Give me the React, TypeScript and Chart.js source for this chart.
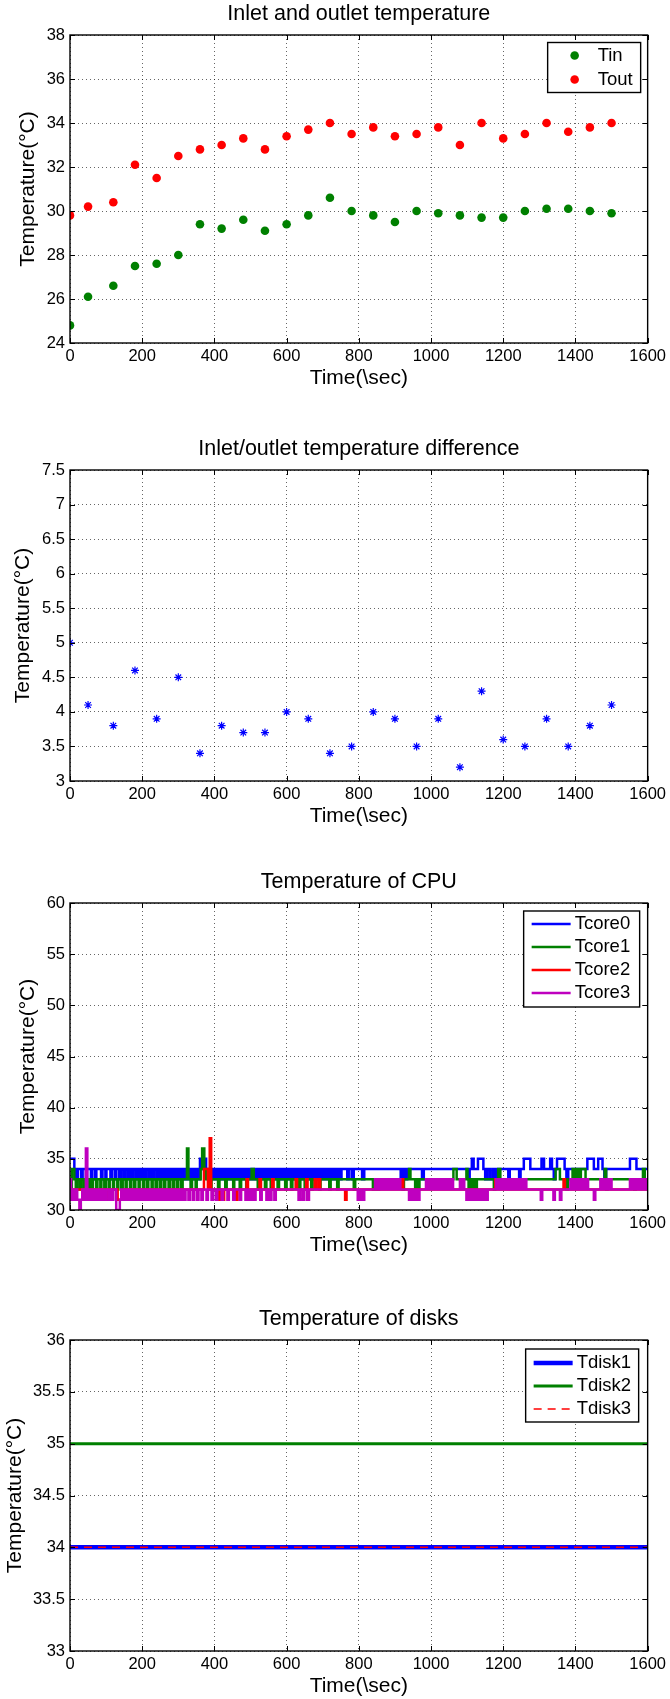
import React, { useEffect, useRef } from "react";
import { Chart, registerables } from "chart.js";

Chart.register(...registerables);

const FONT = "'Liberation Sans', Arial, Helvetica, sans-serif";
Chart.defaults.font.family = FONT;
Chart.defaults.color = "#000";

// ---------- data ----------
const timeTicks = [0, 200, 400, 600, 800, 1000, 1200, 1400, 1600];

const sampleTimes = [0, 50, 120, 180, 240, 300, 360, 420, 480, 540, 600, 660, 720, 780, 840, 900, 960, 1020, 1080, 1140, 1200, 1260, 1320, 1380, 1440, 1500];
const tin = [24.8, 26.1, 26.6, 27.5, 27.6, 28.0, 29.4, 29.2, 29.6, 29.1, 29.4, 29.8, 30.6, 30.0, 29.8, 29.5, 30.0, 29.9, 29.8, 29.7, 29.7, 30.0, 30.1, 30.1, 30.0, 29.9];
const tout = [29.8, 30.2, 30.4, 32.1, 31.5, 32.5, 32.8, 33.0, 33.3, 32.8, 33.4, 33.7, 34.0, 33.5, 33.8, 33.4, 33.5, 33.8, 33.0, 34.0, 33.3, 33.5, 34.0, 33.6, 33.8, 34.0];
const tempDiff = [5.0, 4.1, 3.8, 4.6, 3.9, 4.5, 3.4, 3.8, 3.7, 3.7, 4.0, 3.9, 3.4, 3.5, 4.0, 3.9, 3.5, 3.9, 3.2, 4.3, 3.6, 3.5, 3.9, 3.5, 3.8, 4.1];

const inOutTicks = [24, 26, 28, 30, 32, 34, 36, 38];
const diffTicks = [3, 3.5, 4, 4.5, 5, 5.5, 6, 6.5, 7, 7.5];
const cpuTicks = [30, 35, 40, 45, 50, 55, 60];
const diskTicks = [33, 33.5, 34, 34.5, 35, 35.5, 36];

// CPU core temperatures: [time (s), temperature] at each change
const tcore0 = [
  [0, 35], [12, 34], [17, 33], [22, 34], [31, 33], [35, 34], [44, 33], [47, 34], [58, 33], [62, 34], [70, 33], [73, 34], [86, 33], [90, 34], [98, 33], [101, 34],
  [112, 33], [116, 34], [124, 33], [128, 34], [136, 33], [141, 34], [148, 33], [152, 34], [159, 33], [165, 34], [171, 33], [176, 34], [183, 33], [188, 34],
  [194, 33], [200, 34], [206, 33], [211, 34], [218, 33], [224, 34], [230, 33], [234, 34], [241, 33], [247, 34], [253, 33], [258, 34], [264, 33], [270, 34],
  [276, 33], [281, 34], [287, 33], [293, 34], [299, 33], [304, 34], [310, 33], [316, 34], [322, 33], [327, 34], [333, 33], [338, 34], [344, 33], [350, 34],
  [355, 33], [360, 35], [366, 34], [370, 35], [377, 34], [382, 33], [388, 34], [393, 33], [399, 34], [405, 33], [410, 34], [416, 33], [422, 34], [428, 33],
  [433, 34], [439, 33], [445, 34], [451, 33], [456, 34], [462, 33], [468, 34], [474, 33], [479, 34], [485, 33], [491, 34], [497, 33], [502, 34], [508, 33],
  [514, 34], [520, 33], [525, 34], [531, 33], [537, 34], [543, 33], [548, 34], [554, 33], [560, 34], [566, 33], [571, 34], [577, 33], [583, 34], [589, 33],
  [594, 34], [600, 33], [606, 34], [612, 33], [617, 34], [623, 33], [629, 34], [635, 33], [640, 34], [646, 33], [652, 34], [658, 33], [663, 34], [669, 33],
  [675, 34], [681, 33], [686, 34], [692, 33], [698, 34], [704, 33], [709, 34], [715, 33], [721, 34], [727, 33], [732, 34], [738, 33], [744, 34], [748, 33],
  [752, 34], [768, 33], [772, 34], [780, 33], [786, 34], [809, 33], [815, 34], [916, 33], [922, 34], [928, 33], [934, 34], [975, 33], [980, 34], [1103, 33],
  [1107, 34], [1113, 35], [1118, 34], [1130, 35], [1145, 34], [1150, 33], [1156, 34], [1163, 33], [1170, 34], [1176, 33], [1180, 34], [1214, 33], [1218, 34],
  [1244, 33], [1248, 34], [1257, 35], [1275, 34], [1306, 35], [1313, 34], [1330, 35], [1335, 34], [1340, 33], [1344, 34], [1349, 35], [1370, 34], [1375, 33],
  [1380, 34], [1405, 33], [1410, 34], [1433, 35], [1451, 34], [1463, 35], [1475, 34], [1480, 33], [1485, 34], [1551, 35], [1569, 34], [1600, 34],
];
const tcore1 = [
  [0, 32], [5, 34], [12, 33], [16, 32], [20, 33], [27, 32], [31, 33], [38, 32], [42, 33], [49, 32], [54, 33], [60, 32], [63, 33], [72, 32], [76, 33], [84, 32],
  [87, 33], [95, 32], [99, 33], [107, 32], [110, 33], [119, 32], [122, 33], [131, 32], [134, 33], [142, 32], [146, 33], [154, 32], [157, 33], [166, 32],
  [170, 33], [178, 32], [181, 33], [190, 32], [193, 33], [202, 32], [206, 33], [214, 32], [217, 33], [226, 32], [229, 33], [237, 32], [241, 33], [249, 32],
  [253, 33], [261, 32], [264, 33], [273, 32], [277, 33], [285, 32], [288, 33], [296, 32], [300, 33], [308, 32], [312, 33], [324, 36], [328, 33], [334, 32],
  [338, 33], [348, 32], [351, 33], [362, 34], [366, 36], [372, 34], [376, 33], [388, 32], [392, 33], [410, 32], [414, 33], [430, 32], [434, 33], [452, 32],
  [455, 33], [470, 32], [474, 33], [488, 32], [492, 33], [503, 34], [509, 33], [520, 32], [524, 33], [540, 32], [544, 33], [556, 32], [559, 33], [575, 32],
  [579, 33], [596, 32], [600, 33], [612, 32], [616, 33], [634, 32], [638, 33], [650, 32], [653, 33], [668, 32], [672, 33], [690, 32], [694, 33], [718, 32],
  [722, 33], [740, 32], [744, 33], [786, 32], [790, 33], [839, 32], [843, 33], [850, 32], [856, 33], [921, 32], [925, 33], [939, 34], [943, 33], [956, 32],
  [960, 33], [964, 32], [968, 33], [1062, 34], [1071, 33], [1098, 34], [1101, 33], [1104, 32], [1109, 33], [1114, 32], [1118, 33], [1122, 32], [1127, 33],
  [1174, 32], [1178, 33], [1186, 34], [1192, 33], [1345, 34], [1357, 33], [1375, 32], [1379, 33], [1392, 34], [1398, 33], [1403, 34], [1410, 33], [1415, 34],
  [1428, 33], [1481, 34], [1485, 32], [1489, 33], [1563, 32], [1567, 33], [1587, 34], [1592, 33], [1600, 33],
];
const tcore2 = [
  [0, 32], [85, 31], [90, 32], [96, 31], [102, 32], [105, 31], [108, 32], [132, 31], [150, 32], [218, 31], [222, 32], [371, 34], [382, 32], [387, 37],
  [391, 32], [413, 31], [417, 32], [423, 31], [427, 32], [460, 31], [464, 32], [489, 33], [493, 32], [525, 33], [529, 32], [560, 33], [564, 32], [625, 33],
  [629, 32], [654, 33], [658, 32], [678, 33], [682, 32], [689, 33], [693, 32], [762, 31], [766, 32], [803, 31], [810, 32], [919, 33], [923, 32], [1178, 33],
  [1182, 32], [1367, 33], [1371, 32], [1600, 32],
];
const tcore3 = [
  [0, 33], [3, 31], [8, 32], [12, 31], [16, 32], [20, 31], [26, 30], [30, 31], [34, 32], [38, 31], [44, 36], [48, 31], [52, 32], [57, 31], [61, 32], [66, 31],
  [70, 32], [76, 31], [80, 32], [86, 31], [90, 32], [96, 31], [100, 32], [107, 31], [111, 32], [116, 31], [120, 32], [128, 30], [138, 31], [142, 32], [148, 31],
  [152, 32], [157, 31], [161, 32], [166, 31], [170, 32], [176, 31], [180, 32], [186, 31], [190, 32], [196, 31], [200, 32], [206, 31], [210, 32], [216, 31],
  [220, 32], [226, 31], [230, 32], [236, 31], [240, 32], [246, 31], [250, 32], [256, 31], [260, 32], [266, 31], [270, 32], [276, 31], [280, 32], [286, 31],
  [290, 32], [296, 31], [300, 32], [306, 31], [310, 32], [316, 31], [320, 32], [328, 31], [332, 32], [340, 31], [344, 32], [352, 31], [356, 32], [364, 31],
  [368, 32], [378, 31], [382, 32], [392, 31], [396, 32], [404, 31], [408, 32], [420, 31], [424, 32], [436, 31], [440, 32], [452, 31], [456, 32], [470, 31],
  [474, 32], [486, 31], [489, 32], [493, 31], [497, 32], [502, 31], [506, 32], [510, 31], [514, 32], [527, 31], [531, 32], [544, 31], [548, 32], [554, 31],
  [558, 32], [566, 31], [570, 32], [633, 31], [637, 32], [644, 31], [648, 32], [656, 31], [662, 32], [797, 31], [801, 32], [808, 31], [815, 32], [845, 33],
  [849, 32], [853, 33], [858, 32], [862, 33], [867, 32], [871, 33], [876, 32], [880, 33], [885, 32], [890, 33], [895, 32], [900, 33], [906, 32], [910, 33],
  [915, 32], [939, 31], [943, 32], [948, 31], [952, 32], [956, 31], [960, 32], [964, 31], [968, 32], [986, 33], [990, 32], [994, 33], [999, 32], [1003, 33],
  [1008, 32], [1012, 33], [1017, 32], [1021, 33], [1026, 32], [1030, 33], [1035, 32], [1039, 33], [1044, 32], [1048, 33], [1053, 32], [1057, 33], [1061, 32],
  [1080, 33], [1085, 32], [1088, 33], [1092, 32], [1098, 31], [1103, 32], [1107, 31], [1112, 32], [1116, 31], [1121, 32], [1125, 31], [1129, 32], [1134, 31],
  [1138, 32], [1143, 31], [1147, 32], [1153, 31], [1157, 32], [1180, 33], [1184, 32], [1188, 33], [1193, 32], [1197, 33], [1202, 32], [1206, 33], [1211, 32],
  [1215, 33], [1220, 32], [1224, 33], [1229, 32], [1233, 33], [1238, 32], [1242, 33], [1247, 32], [1251, 33], [1256, 32], [1260, 33], [1264, 32], [1304, 31],
  [1308, 32], [1339, 31], [1343, 32], [1357, 31], [1361, 32], [1386, 33], [1391, 32], [1395, 33], [1400, 32], [1404, 33], [1409, 32], [1413, 33], [1418, 32],
  [1422, 33], [1427, 32], [1431, 33], [1435, 32], [1451, 31], [1455, 32], [1469, 33], [1474, 32], [1478, 33], [1483, 32], [1487, 33], [1492, 32], [1496, 33],
  [1500, 32], [1551, 33], [1556, 32], [1560, 33], [1565, 32], [1569, 33], [1574, 32], [1578, 33], [1583, 32], [1587, 33], [1592, 32], [1596, 33], [1600, 32],
];

const diskTimes = [0, 1600];
const tdisk1 = [34, 34];
const tdisk2 = [35, 35];
const tdisk3 = [34, 34];

// ---------- helpers ----------
const GREEN = "#008000";
const RED = "#ff0000";
const BLUE = "#0000ff";
const MAGENTA = "#bf00bf";

const xy = (xs: number[], ys: number[]) => xs.map((x, i) => ({ x, y: ys[i] }));
const pairs = (p: number[][]) => p.map(([x, y]) => ({ x, y }));

type LegendCfg = {
  right: number; top: number; width: number; height: number;
  row0: number; rowGap: number; markX: number; lineX0: number; lineX1: number; textX: number;
};

const decorPlugin = {
  id: "decor",
  afterDraw(chart: any, _args: any, opts: any) {
    const { ctx, chartArea: a } = chart;
    const xs = chart.scales.x;
    const ys = chart.scales.y;
    ctx.save();
    // inward ticks
    ctx.strokeStyle = "#000";
    ctx.lineWidth = 1;
    ctx.beginPath();
    xs.ticks.forEach((t: any) => {
      const px = Math.round(xs.getPixelForValue(t.value)) + 0.5;
      ctx.moveTo(px, a.top); ctx.lineTo(px, a.top + 5);
      ctx.moveTo(px, a.bottom); ctx.lineTo(px, a.bottom - 5);
    });
    ys.ticks.forEach((t: any) => {
      const py = Math.round(ys.getPixelForValue(t.value)) + 0.5;
      ctx.moveTo(a.left, py); ctx.lineTo(a.left + 5, py);
      ctx.moveTo(a.right, py); ctx.lineTo(a.right - 5, py);
    });
    ctx.stroke();
    // frame
    ctx.lineWidth = 1.4;
    ctx.strokeRect(a.left, a.top, a.right - a.left, a.bottom - a.top);
    // title
    ctx.fillStyle = "#000";
    ctx.font = `21.5px ${FONT}`;
    ctx.textAlign = "center";
    ctx.textBaseline = "middle";
    ctx.fillText(opts.title, (a.left + a.right) / 2, a.top - 21);
    // legend
    const L: LegendCfg | undefined = opts.legend;
    if (L) {
      const bx = a.right - L.right - L.width;
      const by = a.top + L.top;
      ctx.fillStyle = "#fff";
      ctx.fillRect(bx, by, L.width, L.height);
      ctx.strokeStyle = "#000";
      ctx.lineWidth = 1.4;
      ctx.strokeRect(bx, by, L.width, L.height);
      ctx.font = `18.5px ${FONT}`;
      ctx.textAlign = "left";
      ctx.textBaseline = "middle";
      chart.data.datasets.forEach((ds: any, i: number) => {
        const cy = by + L.row0 + i * L.rowGap;
        if (ds.showLine === false) {
          ctx.fillStyle = ds.pointBackgroundColor;
          ctx.beginPath();
          ctx.arc(bx + L.markX, cy, ds.pointRadius, 0, Math.PI * 2);
          ctx.fill();
        } else {
          ctx.strokeStyle = ds.borderColor;
          ctx.lineWidth = ds.borderWidth;
          ctx.setLineDash(ds.borderDash || []);
          ctx.beginPath();
          ctx.moveTo(bx + L.lineX0, cy);
          ctx.lineTo(bx + L.lineX1, cy);
          ctx.stroke();
          ctx.setLineDash([]);
        }
        ctx.fillStyle = "#000";
        ctx.fillText(ds.label, bx + L.textX, cy);
      });
    }
    ctx.restore();
  },
};

function buildConfig(
  type: "scatter" | "line",
  title: string,
  yMin: number, yMax: number, yTicks: number[], yTitlePad: number,
  datasets: any[], legend?: LegendCfg,
): any {
  return {
    type,
    data: { datasets },
    plugins: [decorPlugin],
    options: {
      responsive: false,
      animation: false,
      devicePixelRatio: 1,
      events: [],
      layout: { padding: { top: 35, right: 20, left: 0, bottom: 0 } },
      plugins: {
        legend: { display: false },
        title: { display: false },
        tooltip: { enabled: false },
        decor: { title, legend },
      },
      scales: {
        x: {
          type: "linear",
          min: 0,
          max: 1600,
          afterBuildTicks: (s: any) => { s.ticks = timeTicks.map((v) => ({ value: v })); },
          afterFit: (s: any) => { s.height = 48; },
          ticks: { autoSkip: false, maxRotation: 0, minRotation: 0, padding: 4, font: { size: 16.5 }, color: "#000", callback: (v: any) => String(v) },
          grid: { color: "rgba(0,0,0,0.6)", lineWidth: 1, drawTicks: false },
          border: { display: false, dash: [1, 3] },
          title: { display: true, text: "Time(\\sec)", font: { size: 21 }, color: "#000", padding: { top: 0, bottom: 0 } },
        },
        y: {
          type: "linear",
          min: yMin,
          max: yMax,
          afterBuildTicks: (s: any) => { s.ticks = yTicks.map((v) => ({ value: v })); },
          afterFit: (s: any) => { s.width = 70; },
          ticks: { autoSkip: false, padding: 5, font: { size: 16.5 }, color: "#000", callback: (v: any) => String(v) },
          grid: { color: "rgba(0,0,0,0.6)", lineWidth: 1, drawTicks: false },
          border: { display: false, dash: [1, 3] },
          title: { display: true, text: "Temperature(°C)", font: { size: 21 }, color: "#000", padding: { top: yTitlePad, bottom: 0 } },
        },
      },
    },
  };
}

const stepLine = (label: string, data: number[][], color: string, order: number) => ({
  label, data: pairs(data), borderColor: color, backgroundColor: color, borderWidth: 2.5,
  pointRadius: 0, stepped: true, tension: 0, order, fill: false,
});

const panels = [
  {
    top: 0, height: 391,
    build: () => buildConfig("scatter", "Inlet and outlet temperature", 24, 38, inOutTicks, 15.4, [
      { label: "Tin", data: xy(sampleTimes, tin), showLine: false, pointRadius: 4.3, pointBackgroundColor: GREEN, pointBorderWidth: 0, borderColor: GREEN, backgroundColor: GREEN },
      { label: "Tout", data: xy(sampleTimes, tout), showLine: false, pointRadius: 4.3, pointBackgroundColor: RED, pointBorderWidth: 0, borderColor: RED, backgroundColor: RED },
    ], { right: 7, top: 7.5, width: 93, height: 50, row0: 13, rowGap: 24, markX: 27, lineX0: 0, lineX1: 0, textX: 50 }),
  },
  {
    top: 435, height: 394,
    build: () => buildConfig("scatter", "Inlet/outlet temperature difference", 3, 7.5, diffTicks, 10.9, [
      { label: "dT", data: xy(sampleTimes, tempDiff), showLine: false, pointStyle: "star", pointRadius: 4, pointBorderWidth: 1.2, pointBorderColor: BLUE, borderColor: BLUE, backgroundColor: BLUE },
    ]),
  },
  {
    top: 868, height: 390,
    build: () => buildConfig("line", "Temperature of CPU", 30, 60, cpuTicks, 15.4, [
      stepLine("Tcore0", tcore0, BLUE, 3),
      stepLine("Tcore1", tcore1, GREEN, 2),
      stepLine("Tcore2", tcore2, RED, 1),
      stepLine("Tcore3", tcore3, MAGENTA, 0),
    ], { right: 8, top: 8, width: 116, height: 96, row0: 13, rowGap: 23, markX: 0, lineX0: 8, lineX1: 47, textX: 51 }),
  },
  {
    top: 1305, height: 394,
    build: () => buildConfig("line", "Temperature of disks", 33, 36, diskTicks, 2.4, [
      { label: "Tdisk1", data: xy(diskTimes, tdisk1), borderColor: BLUE, backgroundColor: BLUE, borderWidth: 4.5, pointRadius: 0, order: 2 },
      { label: "Tdisk2", data: xy(diskTimes, tdisk2), borderColor: GREEN, backgroundColor: GREEN, borderWidth: 3, pointRadius: 0, order: 1 },
      { label: "Tdisk3", data: xy(diskTimes, tdisk3), borderColor: RED, backgroundColor: RED, borderWidth: 1.5, borderDash: [8, 6], pointRadius: 0, order: 0 },
    ], { right: 9, top: 9, width: 113, height: 73, row0: 14, rowGap: 23, markX: 0, lineX0: 8, lineX1: 47, textX: 51 }),
  },
];

function Panel({ top, height, build }: { top: number; height: number; build: () => any }) {
  const ref = useRef<HTMLCanvasElement>(null);
  useEffect(() => {
    if (!ref.current) return;
    const chart = new Chart(ref.current, build());
    return () => chart.destroy();
  }, []);
  return (
    <div style={{ position: "absolute", left: 0, top, width: 670, height }}>
      <canvas ref={ref} width={670} height={height} style={{ display: "block", width: 670, height }} />
    </div>
  );
}

export default function App() {
  return (
    <div style={{ position: "absolute", left: 0, top: 0, width: 670, height: 1699, overflow: "hidden", background: "#fff" }}>
      {panels.map((p, i) => (
        <Panel key={i} top={p.top} height={p.height} build={p.build} />
      ))}
    </div>
  );
}
